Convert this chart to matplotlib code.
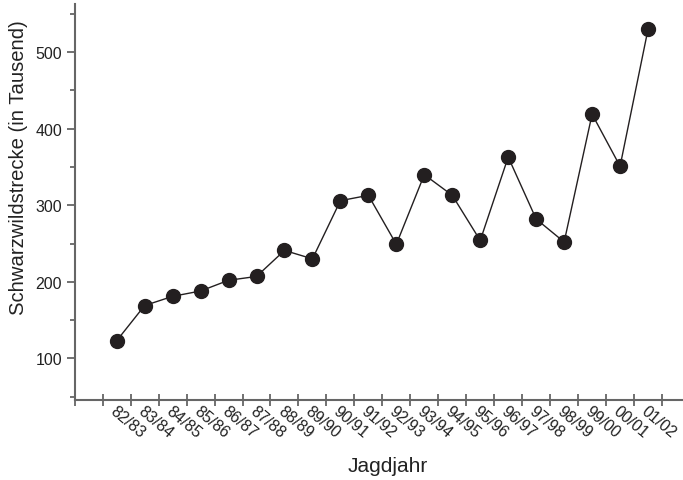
import numpy as np
import matplotlib.pyplot as plt
from matplotlib.ticker import MultipleLocator

plt.rcParams['font.family'] = ['Liberation Sans', 'DejaVu Sans']

# Hunting years and wild boar bag (in thousands)
years = ['82/83', '83/84', '84/85', '85/86', '86/87', '87/88', '88/89', '89/90',
         '90/91', '91/92', '92/93', '93/94', '94/95', '95/96', '96/97', '97/98',
         '98/99', '99/00', '00/01', '01/02']
strecke = [123, 169, 181, 188, 202, 207, 241, 230, 306, 313,
           249, 340, 313, 254, 363, 282, 252, 419, 351, 530]

x = np.arange(len(years))
axis_col = '#666666'

fig = plt.figure(figsize=(6.83, 4.81), dpi=100)
ax = fig.add_axes([0.1094, 0.167, 0.8906, 0.8226])

ax.plot(x, strecke, color='#231f20', linewidth=1.0, marker='o',
        markersize=10, markerfacecolor='#231f20', markeredgecolor='#231f20')

ax.set_xlim(-1.5, 20.25)
ax.set_ylim(46, 563)

# y axis ticks
ax.yaxis.set_minor_locator(MultipleLocator(50))
ax.set_yticks([100, 200, 300, 400, 500])
ax.tick_params(axis='y', which='major', direction='out', length=6, width=1.3,
               color=axis_col, labelsize=11.5, labelcolor='#222222', pad=3)
ax.tick_params(axis='y', which='minor', direction='out', length=3.5, width=1.3,
               color=axis_col)

# x axis: ticks at the category boundaries, labels at the centres
ax.set_xticks(np.arange(-1.5, 20, 1.0))
ax.set_xticklabels([])
ax.set_xticks(x, minor=True)
ax.set_xticklabels(years, minor=True, rotation=-40, ha='left', va='top',
                   rotation_mode='anchor')
ax.tick_params(axis='x', which='major', direction='inout', length=8, width=1.3,
               color=axis_col)
ax.tick_params(axis='x', which='minor', length=0, labelsize=11.5,
               labelcolor='#222222', pad=2.5)

for side in ['top', 'right']:
    ax.spines[side].set_visible(False)
for side in ['left', 'bottom']:
    ax.spines[side].set_color(axis_col)
    ax.spines[side].set_linewidth(1.5)

ax.set_ylabel('Schwarzwildstrecke (in Tausend)', fontsize=14.6, color='#222222',
              va='center')
ax.yaxis.set_label_coords(-0.093, 0.588)
ax.set_xlabel('Jagdjahr', fontsize=15, color='#222222', va='center')
ax.xaxis.set_label_coords(0.515, -0.1676)

fig.savefig('out.png', dpi=100)
